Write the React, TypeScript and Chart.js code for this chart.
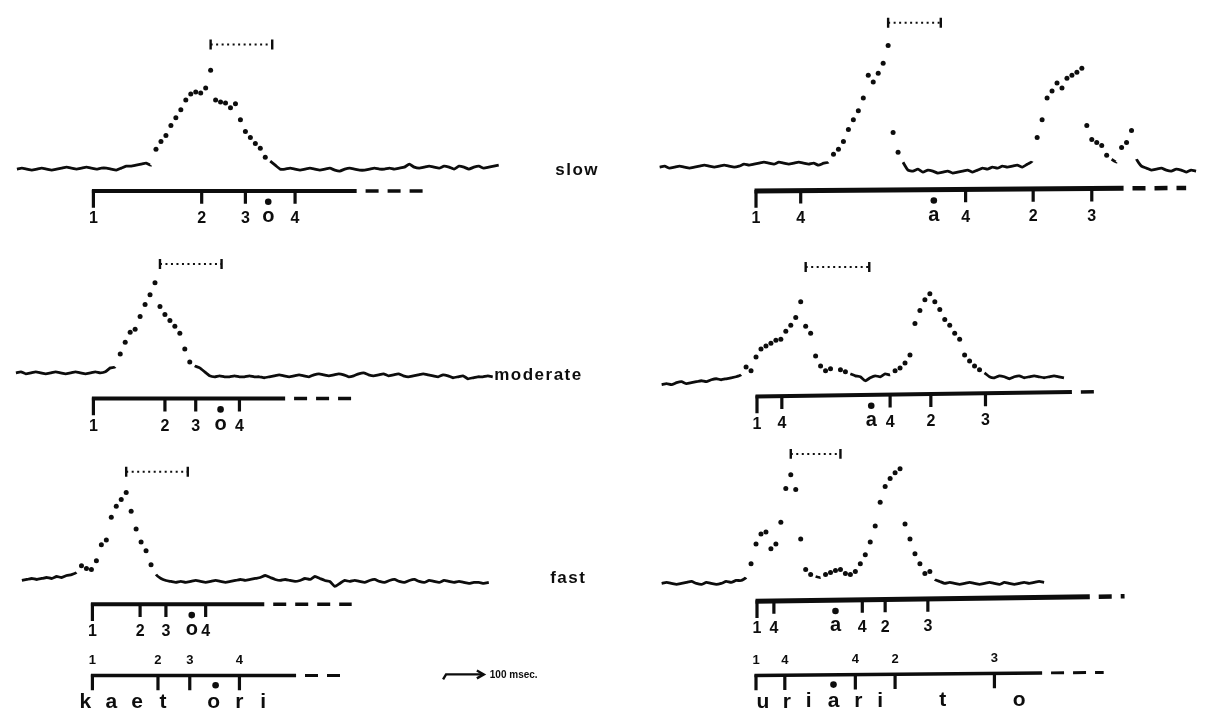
import { useEffect, useRef } from 'react';
import { Chart, registerables } from 'chart.js';

Chart.register(...registerables);

// ---------------- DATA ----------------
// Upward deflection of each trace, one sample every 5 time units.
const slowKaetoriTrace = [
  0, 1, 0, -1, 0, 1, 0, -1, 0, 1,
  2, 1, 0, 1, 2, 1, 0, 1, 1, 0,
  -1, 1, 3, 3, 4, 5, 6, 4, 20, 28,
  34, 44, 52, 60, 70, 76, 78, 77, 82, 100,
  70, 68, 67, 62, 66, 50, 38, 32, 26, 21,
  12, 8, 4, 0, 0, 1, 0, -1, 0, 1,
  0, -1, 0, 1, -1, -2, 0, 1, 0, -1,
  -1, 0, 1, 0, 0, 1, 0, 1, 2, 5,
  2, 1, 2, 3, 2, 1, 3, 2, 0, 3,
  2, 0, 2, 3, 1, 2, 3, 4,
];
const slowUriariTrace = [
  0, 1, -1, 0, 1, 0, -1, 0, 1, 2,
  1, 0, 1, 2, 1, 0, 1, 3, 2, 3,
  4, 5, 4, 3, 5, 4, 3, 4, 5, 4,
  3, 4, 2, 4, 5, 13, 18, 26, 38, 48,
  57, 70, 93, 86, 95, 105, 123, 35, 15, 5,
  -3, -4, -2, -5, -3, -4, -6, -5, -4, -6,
  -5, -4, -3, -5, -3, -1, -2, 0, -1, 1,
  0, 1, 2, 0, 3, 6, 30, 48, 70, 77,
  85, 80, 90, 93, 96, 100, 42, 28, 25, 22,
  12, 8, 5, 20, 25, 37, 8, 1, -1, -3,
  -2, -1, -3, -4, -2, -3, -5, -3, -4,
];
const moderateKaetoriTrace = [
  1, 2, 0, 1, 2, 1, 0, 1, 2, 1,
  0, 1, 2, 1, 0, 1, 2, 1, 2, 6,
  7, 20, 32, 42, 45, 58, 70, 80, 92, 68,
  60, 54, 48, 41, 25, 12, 8, 6, 2, -2,
  -3, -2, -3, -3, -2, -3, -3, -2, -3, -3,
  -4, -3, -2, -1, -2, -3, -2, -1, -2, -3,
  -1, 0, -1, -2, -1, 0, -1, -3, -2, 0,
  1, -1, -2, -1, 0, -2, -1, 0, -2, -3,
  -2, -1, 0, -1, -2, -3, -1, -2, -4, -3,
  -2, -5, -4, -3, -3, -2, -3,
];
const moderateUriariTrace = [
  -4, -3, -4, -2, -1, -3, -2, -1, 0, -1,
  1, 2, 1, 2, 3, 4, 6, 14, 10, 24,
  32, 35, 38, 41, 42, 50, 56, 64, 80, 55,
  48, 25, 15, 10, 12, 8, 11, 9, 7, 5,
  4, 0, 3, 5, 4, 7, 6, 10, 13, 18,
  26, 58, 71, 82, 88, 80, 72, 62, 56, 48,
  42, 26, 20, 15, 11, 8, 4, 3, 5, 4,
  2, 4, 5, 3, 4, 5, 4, 3, 4, 5,
  4, 3,
];
const fastKaetoriTrace = [
  0, 1, 2, 1, 2, 3, 2, 4, 3, 5,
  6, 8, 15, 12, 11, 20, 36, 41, 64, 75,
  82, 89, 70, 52, 39, 30, 16, 6, 2, 0,
  -1, -2, -1, -2, -1, 0, -1, -2, -1, 0,
  -1, -2, -1, 0, 1, 0, 1, 2, 3, 5,
  3, 1, 0, 1, 0, -1, 0, 2, 1, 4,
  2, 0, -1, -6, -3, 0, -1, 0, -1, -2,
  0, 1, -1, -2, 0, 1, -1, -2, 0, 1,
  -1, -2, 0, -1, -2, 0, -1, -2, -1, -2,
  -3, -2, -2, -3, -2,
];
const fastUriariTrace = [
  0, 1, 0, -1, 0, 1, 2, 0, -1, 1,
  0, -1, 0, 2, 1, 3, 3, 6, 20, 40,
  50, 52, 35, 40, 62, 96, 110, 95, 45, 14,
  9, 7, 6, 9, 11, 13, 14, 10, 9, 12,
  20, 29, 42, 58, 82, 98, 106, 112, 116, 60,
  45, 30, 20, 10, 12, 4, 2, 0, 1, 0,
  -1, 0, 1, 0, -1, 0, 1, 0, -1, 1,
  0, -1, 0, 1, 0, 1, 2, 1,
];

// Segment boundary times (ticks) on each timeline
const slowKaetoriMarks = [90, 199, 243, 293];
const moderateKaetoriMarks = [90, 162, 193, 237];
const fastKaetoriMarks = [89, 137, 163, 203];
const slowUriariMarks = [757, 802, 968, 1036, 1095];
const moderateUriariMarks = [758, 783, 892, 933, 988];
const fastUriariMarks = [758, 775, 864, 887, 930];
const kaetoriMarkLabels = ['1', '2', '3', '4'];
const uriariMarkLabels = ['1', '4', '4', '2', '3'];

// Stressed-vowel positions (slow, moderate, fast)
const kaetoriVowelTimes = [266, 218, 189];
const uriariVowelTimes = [936, 873, 837];

// Measured interval brackets [start, end] (slow, moderate, fast)
const kaetoriBrackets = [[208, 270], [157, 219], [123, 185]];
const uriariBrackets = [[890, 943], [807, 871], [792, 842]];

// Reference (phoneme) rows
const kaetoriRefMarks = [89, 155, 187, 237];
const uriariRefMarks = [757, 786, 857, 897, 997];
const kaetoriLetters = ['k', 'a', 'e', 't', 'o', 'r', 'i'];
const kaetoriLetterTimes = [82, 108, 134, 160, 211, 237, 261];
const uriariLetters = ['u', 'r', 'i', 'a', 'r', 'i', 't', 'o'];
const uriariLetterTimes = [764, 788, 810, 835, 860, 882, 945, 1022];
const kaetoriRefVowel = 213;
const uriariRefVowel = 835;

const tempoLabels = ['slow', 'moderate', 'fast'];
const scaleLabel = '100 msec.';

// ---------------- LAYOUT ----------------
const STEP = 5;
const INK = '#0d0d0d';
const LIFT = 9;

type Panel = {
  trace: number[]; t0: number; base: number;
  marks: number[]; labels: string[]; vowel: string; vowelT: number;
  bracket: number[]; bracketY: number;
  lineY: number; lineY2: number; start: number; solidEnd: number; dashEnd: number; lw: number;
};

const panels: Panel[] = [
  { trace: slowKaetoriTrace, t0: 13, base: 167, marks: slowKaetoriMarks, labels: kaetoriMarkLabels, vowel: 'o', vowelT: kaetoriVowelTimes[0], bracket: kaetoriBrackets[0], bracketY: 41, lineY: 189, lineY2: 189, start: 90, solidEnd: 355, dashEnd: 427, lw: 4 },
  { trace: moderateKaetoriTrace, t0: 12, base: 374, marks: moderateKaetoriMarks, labels: kaetoriMarkLabels, vowel: 'o', vowelT: kaetoriVowelTimes[1], bracket: kaetoriBrackets[1], bracketY: 263, lineY: 399, lineY2: 399, start: 90, solidEnd: 283, dashEnd: 353, lw: 4 },
  { trace: fastKaetoriTrace, t0: 18, base: 583, marks: fastKaetoriMarks, labels: kaetoriMarkLabels, vowel: 'o', vowelT: kaetoriVowelTimes[2], bracket: kaetoriBrackets[2], bracketY: 473, lineY: 607, lineY2: 607, start: 89, solidEnd: 262, dashEnd: 350, lw: 4 },
  { trace: slowUriariTrace, t0: 660, base: 165, marks: slowUriariMarks, labels: uriariMarkLabels, vowel: 'a', vowelT: uriariVowelTimes[0], bracket: uriariBrackets[0], bracketY: 19, lineY: 189, lineY2: 186, start: 757, solidEnd: 1127, dashEnd: 1190, lw: 5 },
  { trace: moderateUriariTrace, t0: 662, base: 381, marks: moderateUriariMarks, labels: uriariMarkLabels, vowel: 'a', vowelT: uriariVowelTimes[1], bracket: uriariBrackets[1], bracketY: 266, lineY: 397, lineY2: 392, start: 758, solidEnd: 1075, dashEnd: 1105, lw: 4 },
  { trace: fastUriariTrace, t0: 662, base: 586, marks: fastUriariMarks, labels: uriariMarkLabels, vowel: 'a', vowelT: uriariVowelTimes[2], bracket: uriariBrackets[2], bracketY: 455, lineY: 604, lineY2: 599, start: 758, solidEnd: 1093, dashEnd: 1128, lw: 5 },
];

const refRows = [
  { marks: kaetoriRefMarks, labels: kaetoriMarkLabels, letters: kaetoriLetters, letterT: kaetoriLetterTimes, vowelT: kaetoriRefVowel, lineY: 679, lineY2: 679, start: 89, solidEnd: 294, dashEnd: 342 },
  { marks: uriariRefMarks, labels: uriariMarkLabels, letters: uriariLetters, letterT: uriariLetterTimes, vowelT: uriariRefVowel, lineY: 679, lineY2: 676, start: 757, solidEnd: 1045, dashEnd: 1107 },
];

const tempoLabelPos = [[577, 168], [538, 376], [568, 581]];

const lineYAt = (r: { lineY: number; lineY2: number; start: number; dashEnd: number }, x: number) =>
  r.lineY + ((r.lineY2 - r.lineY) * (x - r.start)) / (r.dashEnd - r.start);

const GAP = { x: NaN, y: null as any };

function buildDatasets() {
  const ds: any[] = [];
  panels.forEach((p) => {
    const amps = p.trace;
    ds.push({
      data: amps.map((a, i) => ({ x: p.t0 + i * STEP, y: p.base - a })),
      borderColor: INK,
      borderWidth: 2.8,
      tension: 0.15,
      pointRadius: (c: any) => (amps[c.dataIndex] >= LIFT ? 2.5 : 0),
      pointHoverRadius: 0,
      pointBackgroundColor: INK,
      pointBorderWidth: 0,
      segment: {
        borderColor: (c: any) =>
          amps[c.p0DataIndex] >= LIFT || amps[c.p1DataIndex] >= LIFT ? 'rgba(0,0,0,0)' : INK,
      },
    });
  });

  const timelines = [...panels, ...refRows.map((r) => ({ ...r, lw: 3.5 }))];
  timelines.forEach((r: any) => {
    ds.push({
      data: [
        { x: r.start - 1.5, y: lineYAt(r, r.start) },
        { x: r.solidEnd, y: lineYAt(r, r.solidEnd) },
      ],
      borderColor: INK, borderWidth: r.lw, pointRadius: 0, borderCapStyle: 'butt',
    });
    ds.push({
      data: [
        { x: r.solidEnd + 9, y: lineYAt(r, r.solidEnd + 9) },
        { x: r.dashEnd, y: lineYAt(r, r.dashEnd) },
      ],
      borderColor: INK, borderWidth: r.lw - 0.5, pointRadius: 0, borderDash: [13, 9],
    });
  });

  // ticks
  const tickData: any[] = [];
  panels.forEach((p) => {
    p.marks.forEach((m, i) => {
      const y0 = lineYAt(p, m) - 1;
      tickData.push({ x: m, y: y0 }, { x: m, y: y0 + (i === 0 ? 18 : 14) }, GAP);
    });
  });
  refRows.forEach((r) => {
    r.marks.forEach((m) => {
      const y0 = lineYAt(r, m) - 1;
      tickData.push({ x: m, y: y0 }, { x: m, y: y0 + 16 }, GAP);
    });
  });
  ds.push({ data: tickData, borderColor: INK, borderWidth: 3.2, pointRadius: 0, spanGaps: false, borderCapStyle: 'butt' });

  // brackets
  const bracketLine: any[] = [];
  const bracketCaps: any[] = [];
  panels.forEach((p) => {
    const [a, b] = p.bracket;
    bracketLine.push({ x: a, y: p.bracketY }, { x: b, y: p.bracketY }, GAP);
    bracketCaps.push({ x: a, y: p.bracketY - 5 }, { x: a, y: p.bracketY + 5 }, GAP);
    bracketCaps.push({ x: b, y: p.bracketY - 5 }, { x: b, y: p.bracketY + 5 }, GAP);
  });
  ds.push({ data: bracketLine, borderColor: INK, borderWidth: 2, borderDash: [2, 3.5], pointRadius: 0, spanGaps: false });
  ds.push({ data: bracketCaps, borderColor: INK, borderWidth: 2.4, pointRadius: 0, spanGaps: false });

  // vowel dots
  const dots: any[] = [];
  panels.forEach((p) => dots.push({ x: p.vowelT, y: lineYAt(p, p.vowelT) + 11 }));
  refRows.forEach((r) => dots.push({ x: r.vowelT, y: lineYAt(r, r.vowelT) + 10 }));
  ds.push({ data: dots, showLine: false, pointRadius: 3.3, pointBackgroundColor: INK, pointBorderWidth: 0 });

  // scale arrow
  ds.push({
    data: [{ x: 442, y: 683 }, { x: 445, y: 678 }, { x: 482, y: 678 }],
    borderColor: INK, borderWidth: 2.4, pointRadius: 0,
  });
  ds.push({
    data: [{ x: 476, y: 674 }, { x: 483, y: 678 }, { x: 476, y: 682 }],
    borderColor: INK, borderWidth: 2.4, pointRadius: 0,
  });
  return ds;
}

const textPlugin = {
  id: 'figureText',
  afterDatasetsDraw(chart: any) {
    const { ctx } = chart;
    const X = (v: number) => chart.scales.x.getPixelForValue(v);
    const Y = (v: number) => chart.scales.y.getPixelForValue(v);
    ctx.save();
    ctx.fillStyle = INK;
    ctx.textAlign = 'center';
    ctx.textBaseline = 'middle';

    // tempo labels
    ctx.font = "bold 17px 'Liberation Sans', Arial, sans-serif";
    (ctx as any).letterSpacing = '1.5px';
    tempoLabels.forEach((t, i) => ctx.fillText(t, X(tempoLabelPos[i][0]), Y(tempoLabelPos[i][1])));
    (ctx as any).letterSpacing = '0px';

    // timeline labels
    panels.forEach((p) => {
      ctx.font = "bold 16px 'Liberation Sans Narrow', 'Liberation Sans', Arial, sans-serif";
      p.marks.forEach((m, i) => ctx.fillText(p.labels[i], X(m), Y(lineYAt(p, m) + 28)));
      ctx.font = "bold 20px 'Liberation Sans', Arial, sans-serif";
      ctx.fillText(p.vowel, X(p.vowelT), Y(lineYAt(p, p.vowelT) + 26));
    });

    // reference rows
    refRows.forEach((r) => {
      ctx.font = "bold 13px 'Liberation Sans Narrow', 'Liberation Sans', Arial, sans-serif";
      r.marks.forEach((m, i) => ctx.fillText(r.labels[i], X(m), Y(lineYAt(r, m) - 15)));
      ctx.font = "bold 21px 'Liberation Sans', Arial, sans-serif";
      r.letters.forEach((l, i) => ctx.fillText(l, X(r.letterT[i]), Y(lineYAt(r, r.letterT[i]) + 27)));
    });

    ctx.font = "bold 10px 'Liberation Sans', Arial, sans-serif";
    ctx.textAlign = 'left';
    ctx.fillText(scaleLabel, X(489), Y(679));
    ctx.restore();
  },
};

export default function App() {
  const ref = useRef<HTMLCanvasElement | null>(null);
  useEffect(() => {
    document.body.style.margin = '0';
    const canvas = ref.current;
    if (!canvas) return;
    const chart = new Chart(canvas, {
      type: 'line',
      data: { datasets: buildDatasets() },
      options: {
        animation: false,
        responsive: false,
        events: [],
        layout: { padding: 0 },
        plugins: { legend: { display: false }, tooltip: { enabled: false } },
        scales: {
          x: { type: 'linear', min: 0, max: 1213, display: false },
          y: { type: 'linear', min: 0, max: 714, reverse: true, display: false },
        },
      },
      plugins: [textPlugin],
    });
    return () => chart.destroy();
  }, []);
  return (
    <div style={{ width: 1213, height: 714, background: '#fff' }}>
      <canvas ref={ref} width={1213} height={714} style={{ display: 'block' }} />
    </div>
  );
}
